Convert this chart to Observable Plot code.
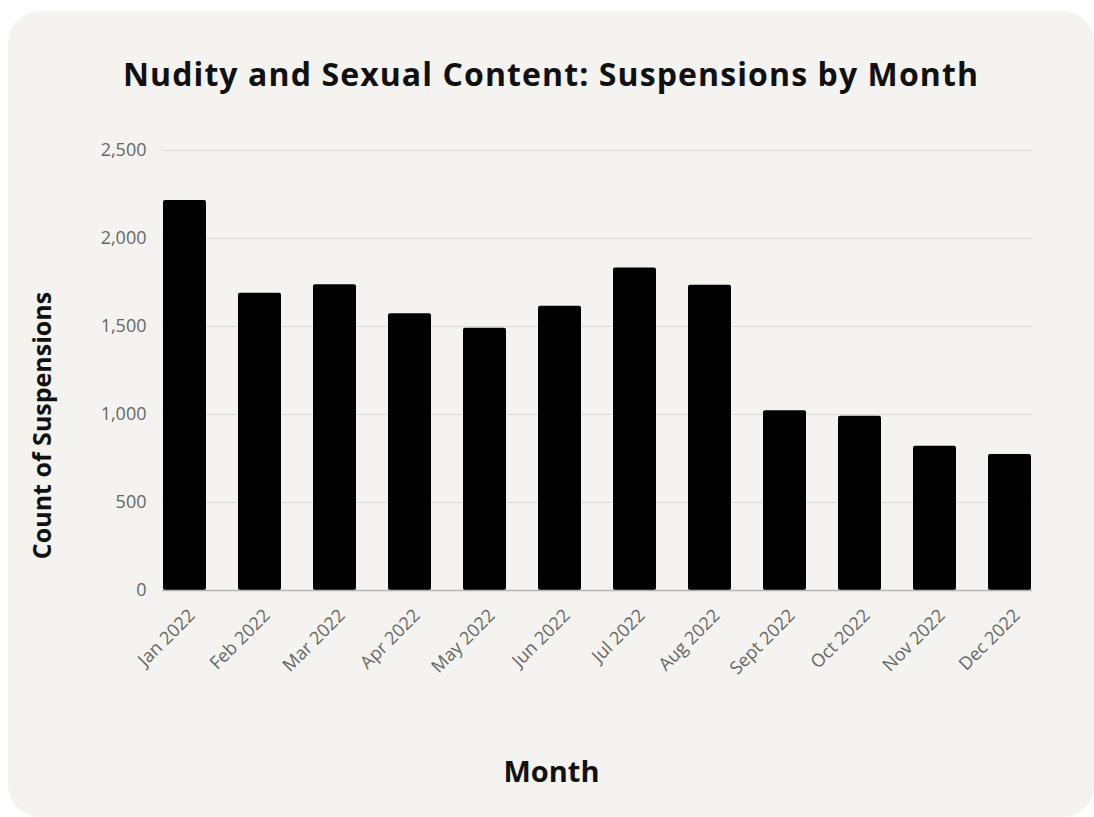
<!DOCTYPE html>
<html>
<head>
<meta charset="utf-8">
<script src="https://cdn.jsdelivr.net/npm/d3@7"></script>
<script src="https://cdn.jsdelivr.net/npm/@observablehq/plot@0.6"></script>
<style>
  html, body { margin: 0; padding: 0; background: #ffffff; width: 1094px; height: 817px; overflow: hidden; }
  #card { position: absolute; left: 8px; top: 11px; width: 1086px; height: 806px; background: #f4f3ef; border-radius: 32px; }
  #title { position: absolute; left: 8px; top: 56px; width: 1086px; text-align: center; font-family: "Open Sans", Lato, sans-serif; font-weight: 700; font-size: 32px; letter-spacing: 1.1px; line-height: 36px; color: #111; margin: 0; }
  #chart { position: absolute; left: 0; top: 120px; }
</style>
</head>
<body>
<div id="card"></div>
<h1 id="title">Nudity and Sexual Content: Suspensions by Month</h1>
<div id="chart"></div>
<script>
const months = ["Jan 2022", "Feb 2022", "Mar 2022", "Apr 2022", "May 2022", "Jun 2022", "Jul 2022", "Aug 2022", "Sept 2022", "Oct 2022", "Nov 2022", "Dec 2022"];
const suspensions = [2216, 1689, 1737, 1572, 1490, 1615, 1833, 1735, 1021, 990, 820, 773];
const yTicks = [0, 500, 1000, 1500, 2000, 2500];
const yTitle = "Count of Suspensions";
const xTitle = "Month";

const data = months.map((m, i) => ({month: m, count: suspensions[i]}));
const font = "'Open Sans', Lato, sans-serif";

const chart = Plot.plot({
  width: 1094,
  height: 690,
  marginTop: 30,
  marginBottom: 220,
  marginLeft: 162,
  marginRight: 62,
  style: { background: "transparent", fontFamily: font },
  x: { domain: months, paddingInner: 0.433, paddingOuter: 0, axis: null },
  y: { domain: [0, 2500], axis: null },
  marks: [
    Plot.gridY(yTicks.filter(d => d > 0), { stroke: "#dcdbd6", strokeOpacity: 1, strokeWidth: 1 }),
    Plot.barY(data, { x: "month", y: "count", fill: "#000", rx: 2 }),
    Plot.ruleY([0], { stroke: "#b3b3b0", strokeWidth: 1.5 }),
    Plot.axisY({ ticks: yTicks, tickSize: 0, tickPadding: 16, tickFormat: d3.format(","), fontSize: 18, fill: "#666", label: null }),
    Plot.text(months, { x: d => d, frameAnchor: "bottom", rotate: -45, textAnchor: "end", lineAnchor: "middle", dx: 7, dy: 22, fontSize: 18, fill: "#666" }),
    Plot.text([yTitle], { frameAnchor: "left", rotate: -90, textAnchor: "middle", lineAnchor: "middle", dx: -120, dy: 55, fontSize: 25, fontWeight: 700, fill: "#111" }),
    Plot.text([xTitle], { frameAnchor: "bottom", textAnchor: "middle", lineAnchor: "middle", dx: -46, dy: 182, fontSize: 29, fontWeight: 700, fill: "#111" })
  ]
});
document.getElementById("chart").appendChild(chart);
</script>
</body>
</html>
